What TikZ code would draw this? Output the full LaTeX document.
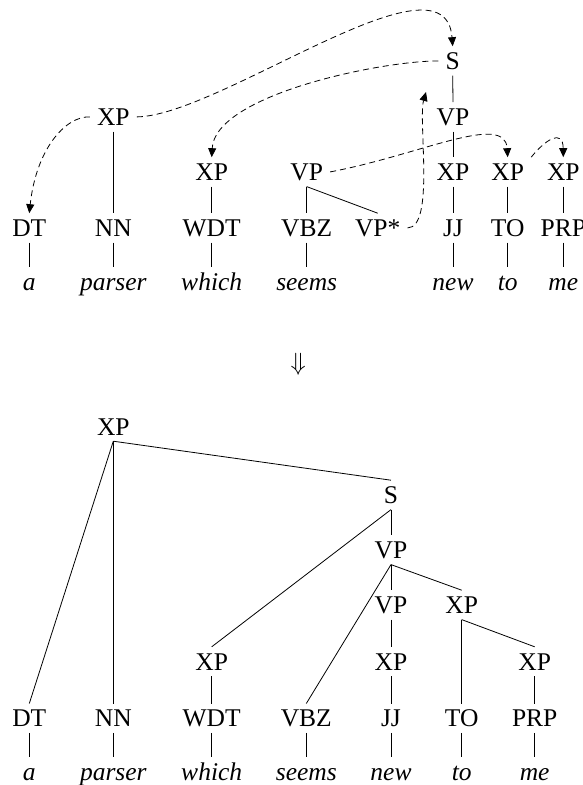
\documentclass[tikz,border=0pt]{standalone}
\usepackage{fontspec}
\setmainfont{Liberation Serif}
\usetikzlibrary{arrows.meta}

\begin{document}
\begin{tikzpicture}[x=1pt,y=-1pt,
  lab/.style={anchor=base, font=\fontsize{25.5}{30}\selectfont,
    text height=17pt, text depth=0pt, inner ysep=6pt, inner xsep=7pt},
  word/.style={lab, font=\fontsize{25.5}{30}\selectfont\itshape},
  edge/.style={line width=0.8pt},
  move/.style={line width=0.8pt, dash pattern=on 6pt off 4pt,
    -{Triangle[width=8pt,length=9pt]}}]
\useasboundingbox (0,0) rectangle (583,785);

% ---------- upper tree: fragments before attachment ----------
\node[lab] (tS)    at (452.7, 69.4) {S};
\node[lab] (tXP)   at (113.3,125.4) {XP};
\node[lab] (tVP)   at (453.0,125.4) {VP};
\node[lab] (tXPw)  at (211.7,180.4) {XP};
\node[lab] (tVPs)  at (306.7,180.4) {VP};
\node[lab] (tXPj)  at (453.0,180.4) {XP};
\node[lab] (tXPt)  at (507.7,180.4) {XP};
\node[lab] (tXPp)  at (563.3,180.4) {XP};

\node[lab] (tDT)   at (29.3, 236.4) {DT};
\node[lab] (tNN)   at (113.3,236.4) {NN};
\node[lab] (tWDT)  at (211.7,236.4) {WDT};
\node[lab] (tVBZ)  at (306.7,236.4) {VBZ};
\node[lab] (tVPx)  at (377.7,236.4) {VP*};
\node[lab] (tJJ)   at (453.0,236.4) {JJ};
\node[lab] (tTO)   at (507.7,236.4) {TO};
\node[lab] (tPRP)  at (563.3,236.4) {PRP};

\node[word] (ta)      at (29.3, 290) {a};
\node[word] (tparser) at (113.3,290) {parser};
\node[word] (twhich)  at (211.7,290) {which};
\node[word] (tseems)  at (306.7,290) {seems};
\node[word] (tnew)    at (453.0,290) {new};
\node[word] (tto)     at (507.7,290) {to};
\node[word] (tme)     at (563.3,290) {me};

\draw[edge] (tS.south) -- (tVP.north);
\draw[edge] (tVP.south) -- (tXPj.north);
\draw[edge] (tXP.south) -- (tNN.north);
\draw[edge] (tXPw.south) -- (tWDT.north);
\draw[edge] (tVPs.south) -- (tVBZ.north);
\draw[edge] (tVPs.south) -- (tVPx.north);
\draw[edge] (tXPj.south) -- (tJJ.north);
\draw[edge] (tXPt.south) -- (tTO.north);
\draw[edge] (tXPp.south) -- (tPRP.north);
\foreach \p/\w in {tDT/ta, tNN/tparser, tWDT/twhich, tVBZ/tseems,
                   tJJ/tnew, tTO/tto, tPRP/tme}
  \draw[edge] (\p.south) -- (\w.north);

% attachment moves
\coordinate (up) at (426,92);
\draw[move] (tXP.east) .. controls (220,116) and (445,-55) .. (tS.north);
\draw[move] (tXP.west) .. controls (65,116) and (36,150) .. (tDT.north);
\draw[move] (tS.west) .. controls (380,61) and (215,95) .. (tXPw.north);
\draw[move] (tVPs.east) .. controls (420,155) and (505,112) .. (tXPt.north);
\draw[move] (tXPt.north east) .. controls (545,140) and (563,128) .. (tXPp.north);
\draw[move] (tVPx.east) .. controls (435,228) and (418,120) .. (up);

% ---------- derivation step ----------
\node (step) at (298.3,364) {\fontsize{25.5}{30}\selectfont$\Downarrow$};

% ---------- lower tree: combined result ----------
\node[lab] (bXP)   at (113.3,435) {XP};
\node[lab] (bS)    at (391,503.4) {S};
\node[lab] (bVP)   at (391,558.4) {VP};
\node[lab] (bVPi)  at (391,613.4) {VP};
\node[lab] (bXPr)  at (461.7,613.4) {XP};
\node[lab] (bXPw)  at (211.7,670) {XP};
\node[lab] (bXPj)  at (391,670) {XP};
\node[lab] (bXPp)  at (534.7,670) {XP};

\node[lab] (bDT)   at (29.3, 726.7) {DT};
\node[lab] (bNN)   at (113.3,726.7) {NN};
\node[lab] (bWDT)  at (211.7,726.7) {WDT};
\node[lab] (bVBZ)  at (306.3,726.7) {VBZ};
\node[lab] (bJJ)   at (391,  726.7) {JJ};
\node[lab] (bTO)   at (461.7,726.7) {TO};
\node[lab] (bPRP)  at (534.7,726.7) {PRP};

\node[word] (ba)      at (29.3, 780) {a};
\node[word] (bparser) at (113.3,780) {parser};
\node[word] (bwhich)  at (211.7,780) {which};
\node[word] (bseems)  at (306.3,780) {seems};
\node[word] (bnew)    at (391,  780) {new};
\node[word] (bto)     at (461.7,780) {to};
\node[word] (bme)     at (534.7,780) {me};

\draw[edge] (bXP.south) -- (bDT.north);
\draw[edge] (bXP.south) -- (bNN.north);
\draw[edge] (bXP.south) -- (bS.north);
\draw[edge] (bS.south) -- (bXPw.north);
\draw[edge] (bS.south) -- (bVP.north);
\draw[edge] (bVP.south) -- (bVBZ.north);
\draw[edge] (bVP.south) -- (bVPi.north);
\draw[edge] (bVP.south) -- (bXPr.north);
\draw[edge] (bVPi.south) -- (bXPj.north);
\draw[edge] (bXPr.south) -- (bTO.north);
\draw[edge] (bXPr.south) -- (bXPp.north);
\draw[edge] (bXPw.south) -- (bWDT.north);
\draw[edge] (bXPj.south) -- (bJJ.north);
\draw[edge] (bXPp.south) -- (bPRP.north);
\foreach \p/\w in {bDT/ba, bNN/bparser, bWDT/bwhich, bVBZ/bseems,
                   bJJ/bnew, bTO/bto, bPRP/bme}
  \draw[edge] (\p.south) -- (\w.north);
\end{tikzpicture}
\end{document}
